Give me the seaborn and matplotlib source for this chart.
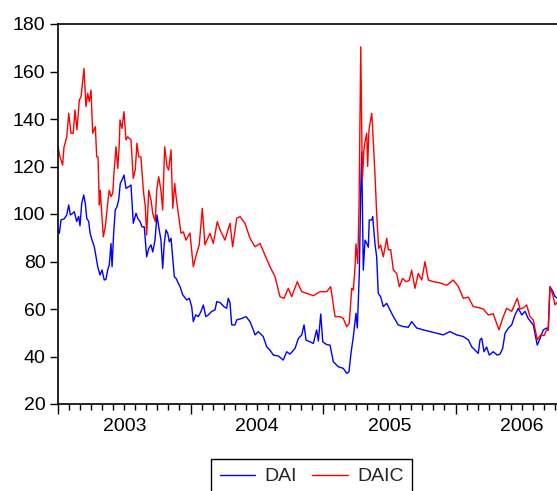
import numpy as np
import pandas as pd
import matplotlib
matplotlib.use("Agg")
import matplotlib.pyplot as plt
import matplotlib.transforms as mtransforms
import seaborn as sns

# ---- data (decimal years) ----
t_daic = [2003.000, 2003.015, 2003.035, 2003.045, 2003.066, 2003.081, 2003.098, 2003.115, 2003.128, 2003.143,
          2003.161, 2003.174, 2003.196, 2003.211, 2003.224, 2003.236, 2003.249, 2003.262, 2003.282, 2003.292,
          2003.302, 2003.312, 2003.319, 2003.342, 2003.357, 2003.375, 2003.387, 2003.400, 2003.413, 2003.425,
          2003.438, 2003.451, 2003.463, 2003.468, 2003.483, 2003.498, 2003.513, 2003.526, 2003.551, 2003.568,
          2003.583, 2003.596, 2003.609, 2003.626, 2003.644, 2003.659, 2003.669, 2003.685, 2003.702, 2003.715,
          2003.734, 2003.745, 2003.760, 2003.777, 2003.790, 2003.805, 2003.823, 2003.835, 2003.853, 2003.866,
          2003.881, 2003.891, 2003.911, 2003.928, 2003.946, 2003.966, 2003.996, 2004.021, 2004.047, 2004.066,
          2004.089, 2004.109, 2004.147, 2004.172, 2004.202, 2004.223, 2004.260, 2004.298, 2004.318, 2004.349,
          2004.374, 2004.411, 2004.449, 2004.487, 2004.525, 2004.562, 2004.600, 2004.638, 2004.675, 2004.706,
          2004.738, 2004.764, 2004.806, 2004.839, 2004.877, 2004.927, 2004.977, 2005.028, 2005.058, 2005.091,
          2005.128, 2005.153, 2005.179, 2005.198, 2005.217, 2005.229, 2005.242, 2005.249, 2005.262, 2005.272,
          2005.285, 2005.297, 2005.309, 2005.319, 2005.330, 2005.337, 2005.347, 2005.355, 2005.368, 2005.375,
          2005.392, 2005.405, 2005.420, 2005.435, 2005.455, 2005.481, 2005.493, 2005.511, 2005.531, 2005.556,
          2005.576, 2005.601, 2005.626, 2005.651, 2005.669, 2005.694, 2005.719, 2005.745, 2005.770, 2005.795,
          2005.832, 2005.883, 2005.934, 2005.983, 2006.021, 2006.059, 2006.097, 2006.134, 2006.172, 2006.210,
          2006.248, 2006.285, 2006.328, 2006.356, 2006.386, 2006.424, 2006.466, 2006.487, 2006.512, 2006.537,
          2006.562, 2006.587, 2006.617, 2006.643, 2006.668, 2006.688, 2006.700, 2006.713, 2006.734, 2006.751,
          2006.770]
v_daic = [128.3, 124.1, 120.6, 128.0, 132.5, 142.4, 134.0, 134.0, 143.8, 135.4,
          148.0, 149.4, 161.3, 145.2, 150.8, 147.3, 152.2, 134.0, 136.8, 124.1,
          124.0, 103.8, 110.0, 90.4, 94.6, 104.5, 110.0, 107.3, 108.7, 119.2,
          128.3, 119.2, 129.8, 139.6, 136.0, 143.1, 131.2, 132.5, 131.2, 115.0,
          118.5, 129.8, 124.1, 124.0, 110.0, 103.0, 91.2, 110.0, 105.9, 100.3,
          96.8, 110.0, 115.7, 110.0, 101.7, 128.3, 120.0, 118.5, 127.0, 102.4,
          112.9, 107.3, 98.9, 91.9, 92.5, 89.0, 92.0, 77.8, 83.5, 87.0,
          102.4, 87.0, 91.9, 87.6, 96.8, 93.3, 89.0, 96.1, 86.2, 98.2,
          98.9, 96.1, 89.8, 86.2, 87.6, 82.7, 77.8, 73.6, 65.2, 64.5,
          68.7, 65.2, 71.5, 67.3, 66.6, 65.6, 67.3, 67.3, 69.4, 56.8,
          56.8, 56.0, 52.5, 54.0, 68.7, 68.0, 77.8, 87.4, 79.2, 103.0,
          170.4, 114.3, 127.0, 131.2, 134.0, 120.0, 135.4, 138.2, 142.4, 135.4,
          117.1, 100.3, 85.5, 86.9, 82.0, 89.8, 84.9, 85.0, 76.4, 75.0,
          69.4, 72.9, 71.5, 72.0, 76.4, 68.7, 75.0, 72.2, 79.9, 72.2,
          71.5, 71.0, 70.0, 72.2, 69.5, 64.5, 65.0, 61.0, 60.6, 60.0,
          57.5, 58.0, 51.2, 56.1, 60.3, 59.0, 64.5, 60.0, 60.5, 61.7,
          56.8, 55.4, 47.0, 49.1, 48.8, 51.2, 51.0, 69.4, 66.0, 61.7,
          63.0]

t_dai = [2003.000, 2003.010, 2003.023, 2003.048, 2003.066, 2003.081, 2003.093, 2003.111, 2003.123, 2003.141,
         2003.156, 2003.166, 2003.179, 2003.194, 2003.206, 2003.217, 2003.232, 2003.242, 2003.257, 2003.274,
         2003.287, 2003.300, 2003.317, 2003.332, 2003.349, 2003.362, 2003.375, 2003.387, 2003.400, 2003.408,
         2003.420, 2003.432, 2003.445, 2003.458, 2003.470, 2003.483, 2003.498, 2003.513, 2003.534, 2003.551,
         2003.568, 2003.589, 2003.602, 2003.619, 2003.634, 2003.651, 2003.669, 2003.685, 2003.702, 2003.715,
         2003.732, 2003.747, 2003.760, 2003.777, 2003.790, 2003.802, 2003.815, 2003.828, 2003.840, 2003.853,
         2003.866, 2003.878, 2003.891, 2003.903, 2003.921, 2003.941, 2003.971, 2003.991, 2004.009, 2004.021,
         2004.039, 2004.059, 2004.079, 2004.097, 2004.115, 2004.134, 2004.160, 2004.185, 2004.198, 2004.223,
         2004.253, 2004.273, 2004.285, 2004.298, 2004.311, 2004.336, 2004.349, 2004.386, 2004.419, 2004.449,
         2004.474, 2004.487, 2004.512, 2004.549, 2004.575, 2004.600, 2004.625, 2004.663, 2004.700, 2004.726,
         2004.751, 2004.789, 2004.814, 2004.839, 2004.857, 2004.872, 2004.902, 2004.927, 2004.952, 2004.965,
         2004.983, 2004.998, 2005.028, 2005.053, 2005.078, 2005.115, 2005.153, 2005.179, 2005.196, 2005.211,
         2005.229, 2005.249, 2005.259, 2005.274, 2005.285, 2005.292, 2005.304, 2005.317, 2005.330, 2005.342,
         2005.349, 2005.368, 2005.375, 2005.392, 2005.405, 2005.417, 2005.435, 2005.455, 2005.481, 2005.506,
         2005.531, 2005.568, 2005.606, 2005.644, 2005.669, 2005.707, 2005.757, 2005.808, 2005.858, 2005.908,
         2005.958, 2006.009, 2006.059, 2006.097, 2006.122, 2006.147, 2006.172, 2006.185, 2006.198, 2006.215,
         2006.235, 2006.255, 2006.285, 2006.315, 2006.336, 2006.356, 2006.374, 2006.398, 2006.424, 2006.449,
         2006.474, 2006.500, 2006.525, 2006.549, 2006.587, 2006.617, 2006.638, 2006.663, 2006.688, 2006.700,
         2006.713, 2006.734, 2006.751, 2006.770]
v_dai = [93.3, 91.9, 97.5, 98.0, 99.6, 103.8, 99.6, 100.3, 101.0, 96.8,
         99.0, 95.0, 104.5, 108.0, 104.5, 98.2, 96.8, 91.9, 89.0, 86.2,
         82.0, 77.8, 74.3, 76.4, 72.2, 72.5, 76.4, 78.5, 87.6, 77.8,
         91.9, 101.7, 103.0, 105.9, 112.9, 114.3, 116.4, 110.8, 111.5, 112.2,
         96.1, 100.3, 98.2, 96.8, 94.6, 94.6, 82.0, 85.5, 87.0, 84.0,
         89.0, 99.6, 94.6, 89.0, 77.1, 87.6, 93.3, 91.9, 88.3, 89.8,
         81.3, 73.6, 72.9, 71.5, 69.4, 66.0, 63.8, 64.5, 61.0, 54.7,
         57.5, 56.8, 58.9, 61.7, 56.8, 57.5, 59.0, 59.6, 63.1, 62.7,
         61.0, 60.3, 64.5, 62.7, 53.3, 53.3, 55.4, 56.0, 56.8, 54.7,
         51.2, 49.1, 50.5, 48.4, 44.1, 42.7, 40.6, 40.2, 38.5, 42.0,
         41.0, 43.4, 47.6, 49.0, 53.3, 46.9, 46.2, 45.5, 51.2, 46.5,
         57.9, 46.2, 45.0, 44.8, 37.8, 35.7, 35.0, 32.9, 33.5, 41.3,
         48.4, 58.2, 52.0, 75.0, 110.0, 126.2, 76.4, 89.0, 87.6, 86.0,
         97.5, 97.5, 98.9, 87.6, 82.0, 66.6, 65.2, 61.0, 62.4, 59.6,
         56.8, 53.3, 52.6, 52.3, 54.7, 52.0, 51.2, 50.5, 49.8, 49.1,
         50.5, 49.1, 48.4, 47.0, 44.1, 42.7, 41.3, 47.0, 47.7, 42.0,
         44.0, 40.6, 42.0, 40.6, 41.0, 43.4, 49.8, 51.9, 53.3, 57.5,
         60.3, 57.5, 59.0, 56.0, 53.3, 44.8, 47.6, 51.2, 52.0, 51.5,
         69.4, 67.5, 65.2, 64.5]

series_names = ["DAI", "DAIC"]
series_colors = {"DAI": "#0000FF", "DAIC": "#FF0000"}
year_labels = ["2003", "2004", "2005", "2006"]
y_ticks = [20, 40, 60, 80, 100, 120, 140, 160, 180]

df = pd.concat([
    pd.DataFrame({"t": t_dai, "value": v_dai, "series": "DAI"}),
    pd.DataFrame({"t": t_daic, "value": v_daic, "series": "DAIC"}),
], ignore_index=True)

sns.set_style("ticks")
plt.rcParams["font.family"] = ["Liberation Sans", "DejaVu Sans"]

W, H = 557, 491
fig = plt.figure(figsize=(W / 100, H / 100), dpi=100)
ax = fig.add_axes([58 / W, 87 / H, 500 / W, 380 / H])

sns.lineplot(data=df, x="t", y="value", hue="series", hue_order=series_names,
             palette=series_colors, estimator=None, sort=True, linewidth=1.0,
             ax=ax, legend=False)

ax.set_xlabel("")
ax.set_ylabel("")

for s in ["top", "left", "bottom"]:
    ax.spines[s].set_visible(True)
    ax.spines[s].set_color("black")
    ax.spines[s].set_linewidth(1.2)
ax.spines["right"].set_visible(False)

ax.set_yticks(y_ticks)
ax.set_yticklabels([str(v) for v in y_ticks])
ax.tick_params(axis="y", direction="out", length=6, width=1, labelsize=14, pad=3, colors="black")

years = [int(y) for y in year_labels]
ax.set_xticks(years)
ax.set_xticklabels([])
month_ticks = [y + m / 12 for y in years for m in range(1, 12)]
ax.set_xticks(month_ticks, minor=True)
ax.tick_params(axis="x", which="major", direction="out", length=7, width=1, colors="black")
ax.tick_params(axis="x", which="minor", direction="out", length=4.5, width=1, colors="black")
ax.tick_params(top=False, right=False)

# limits set after ticks so ticks cannot widen the view
ax.set_xlim(2003.0, 2003.0 + 500 / 132.5)
ax.set_ylim(20, 180)

trans = mtransforms.blended_transform_factory(ax.transData, ax.transAxes)
for y, lab in zip(years, year_labels):
    ax.text(y + 0.5, -0.038, lab, transform=trans, ha="center", va="top", fontsize=14, color="black")

handles = [plt.Line2D([], [], color=series_colors[n], linewidth=1.0) for n in series_names]
leg = fig.legend(handles, series_names, loc="upper center", bbox_to_anchor=(311.5 / W, 1 - 459 / H),
                 ncol=2, fontsize=14, frameon=True, fancybox=False, shadow=False,
                 handlelength=1.85, handletextpad=0.45, columnspacing=0.8, borderpad=0.45,
                 borderaxespad=0)
leg.get_frame().set_edgecolor("black")
leg.get_frame().set_linewidth(1.0)
leg.get_frame().set_alpha(1)

fig.savefig("out.png", dpi=100)
